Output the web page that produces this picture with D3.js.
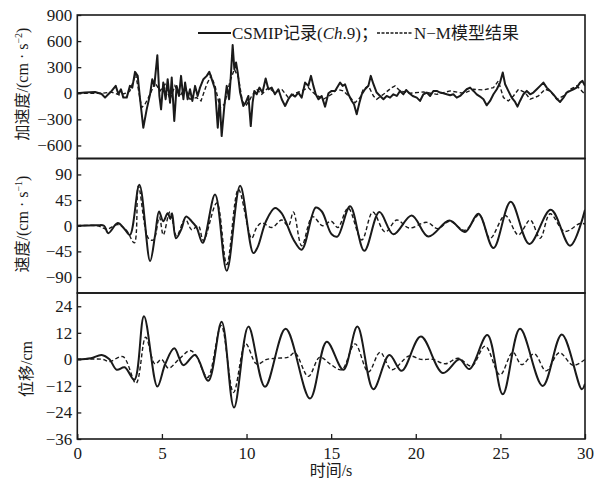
<!DOCTYPE html>
<html>
<head>
<meta charset="utf-8">
<script src="https://cdn.jsdelivr.net/npm/d3@7/dist/d3.min.js"></script>
<style>
  body { margin: 0; background: #fff; }
  text { font-family: "Liberation Serif", "Noto Sans CJK SC", serif; fill: #1a1a1a; }
</style>
</head>
<body>
<div id="chart"></div>
<script>
// time ticks and y ticks
var timeTicks = [0, 5, 10, 15, 20, 25, 30]
var accTicks = [-600, -300, 0, 300, 600, 900]
var velTicks = [-90, -45, 0, 45, 90]
var dispTicks = [-36, -24, -12, 0, 12, 24]

// acceleration, cm/s^2  [time s, value]
var accRecord = [[0, 0], [0.45, 8], [1.05, 15], [1.44, -8], [1.64, -50], [1.83, -12], [2.03, 27], [2.27, 85],
  [2.43, -12], [2.58, 46], [2.72, -50], [2.92, -50], [3.11, 85], [3.25, 65], [3.41, 246], [3.57, 200],
  [3.71, -69], [3.9, -396], [4.1, -185], [4.3, -12], [4.43, 162], [4.55, 85], [4.73, 438], [4.85, -31],
  [4.95, -185], [5.08, 123], [5.22, -69], [5.34, 162], [5.48, -108], [5.58, 181], [5.73, -319], [5.87, 85],
  [6.01, -31], [6.13, 200], [6.27, -69], [6.37, 123], [6.52, -69], [6.66, 46], [6.8, -88], [6.96, 85],
  [7.11, -31], [7.25, 65], [7.45, 162], [7.65, 200], [7.8, 246], [7.98, 142], [8.14, 46], [8.3, -396],
  [8.41, -69], [8.53, -492], [8.69, -146], [8.83, 85], [8.97, -69], [9.06, 162], [9.18, 554], [9.28, 277],
  [9.38, 354], [9.48, 238], [9.62, 8], [9.81, -146], [9.95, -108], [10.11, -31], [10.25, -377], [10.36, -108],
  [10.46, 27], [10.6, -12], [10.76, 65], [10.94, 8], [11.13, 169], [11.29, 46], [11.49, 65], [11.68, -12],
  [11.88, 46], [12.08, -69], [12.28, -146], [12.47, -69], [12.67, -12], [12.87, -38], [13.06, 8], [13.26, -50],
  [13.46, 123], [13.65, 85], [13.81, 200], [13.95, 85], [14.09, -12], [14.25, -69], [14.44, -31], [14.64, -154],
  [14.84, 0], [15.03, 27], [15.23, 27], [15.53, 123], [15.68, 85], [15.82, 104], [16.02, -12], [16.22, -88],
  [16.35, -127], [16.51, -242], [16.67, -108], [16.81, -12], [17.0, 46], [17.2, 85], [17.34, 200], [17.5, 104],
  [17.69, 8], [17.89, -31], [18.09, -69], [18.28, -31], [18.48, -50], [18.68, -12], [18.88, -31], [19.07, 27],
  [19.27, -12], [19.43, 38], [19.62, 0], [19.82, -31], [20.06, -50], [20.25, -88], [20.45, -12], [20.65, 8],
  [20.85, -31], [21.04, 27], [21.24, 27], [21.44, 8], [21.63, 0], [21.83, -12], [22.03, -23], [22.22, -12],
  [22.42, -50], [22.62, -31], [22.82, 8], [23.01, 46], [23.21, 65], [23.41, 27], [23.6, -12], [23.8, -38],
  [24.0, -69], [24.19, -138], [24.39, -88], [24.59, -12], [24.79, 46], [24.98, 123], [25.14, 238], [25.28, 104],
  [25.47, 27], [25.67, -50], [25.87, -100], [26.01, -154], [26.16, -88], [26.36, -12], [26.56, 27], [26.76, -12],
  [26.95, 8], [27.15, 46], [27.35, 85], [27.54, 123], [27.74, 65], [27.94, 27], [28.13, -12], [28.33, -62],
  [28.53, -100], [28.73, -50], [28.92, 8], [29.12, 27], [29.32, 46], [29.51, 65], [29.71, 123], [29.85, 142],
  [30, 85]]
var accModel = [[0, 0], [1.5, 0], [2.0, 15], [2.5, -20], [3.0, 10], [3.11, 27], [3.45, 219], [3.8, -165],
  [4.0, -127], [4.3, -12], [4.59, 123], [4.89, 27], [5.18, 104], [5.48, -69], [5.77, 85], [6.07, -31],
  [6.37, 65], [6.66, -69], [7.05, -50], [7.31, -88], [7.65, 104], [7.9, 200], [8.14, 85], [8.43, -165],
  [8.69, -127], [8.89, 27], [9.03, 142], [9.28, 277], [9.52, 181], [9.75, -88], [9.95, -146], [10.15, -88],
  [10.31, -31], [10.6, 46], [10.9, -12], [11.29, 65], [11.68, 8], [12.08, 46], [12.47, -50], [12.87, 0],
  [13.26, 27], [13.65, 65], [14.05, -12], [14.54, -69], [15.03, -12], [15.33, 46], [15.72, 27], [16.12, -50],
  [16.41, -108], [16.71, -50], [16.9, 46], [17.2, 85], [17.5, -31], [17.69, -69], [18.09, -12], [18.58, 65],
  [18.78, 85], [19.07, 27], [19.66, 0], [20.45, 15], [21.24, -12], [22.03, 27], [22.82, 0], [23.41, 46],
  [24.0, 38], [24.59, 65], [24.88, 142], [25.18, -50], [25.47, -88], [25.77, -31], [26.07, 46], [26.46, 8],
  [26.76, -69], [27.25, -31], [27.64, 46], [27.94, 27], [28.33, -69], [28.73, -31], [29.12, 46], [29.51, 85],
  [29.81, 27], [30, -12]]

// velocity, cm/s
var velRecord = [[0, 0], [1.2, 1], [1.58, 0], [1.83, -13], [2.39, 4.7], [2.8, -6], [3.11, -16], [3.67, 72],
  [4.3, -62], [4.6, -16], [4.83, 25], [5.08, 8], [5.34, 22], [5.5, 12], [5.6, 22], [5.83, -22], [6.15, -6],
  [6.42, 16], [6.75, 8], [7.05, -3], [7.41, -30], [8.14, 55], [8.83, -79], [9.62, 70], [10.4, -48],
  [10.65, -38], [11.15, 8], [11.68, 31], [12.07, 22], [12.77, -24], [13.26, -42], [14.09, 32], [14.45, 25],
  [15.03, -15], [15.37, -19], [16.12, 34], [16.96, -44], [17.85, 24], [18.68, -15], [19.76, 18], [20.74, -19],
  [21.99, 9], [22.91, -11], [23.7, 21], [24.59, -39], [25.61, 42], [26.71, -32], [27.98, 28], [29.12, -35],
  [30, 28]]
var velModel = [[0, 0], [1.2, 0], [1.74, -6], [2.39, 2], [2.9, -8], [3.37, -30], [3.61, 70], [4.2, -22],
  [4.5, -25], [4.85, 15], [5.08, -16], [5.48, 25], [5.87, -18], [6.37, 12], [6.76, -7], [7.15, 0], [7.45, -26],
  [8.24, 40], [8.83, -68], [9.52, 64], [10.3, -22], [10.6, -3], [10.9, 5], [11.5, -3], [12.08, 10],
  [12.47, 0], [12.77, 24], [13.26, -35], [13.9, 16], [14.5, 0], [15.0, 8], [15.4, -3], [16.0, 31],
  [16.81, -25], [17.46, 24], [18.19, -11], [18.88, 10], [19.6, -4], [20.65, 6], [21.3, -5], [22.0, 8],
  [22.9, -8], [23.75, 19], [24.39, -22], [25.28, 18], [26.06, -16], [26.76, 10], [27.35, -22], [27.94, 21],
  [28.8, -10], [29.7, 4], [30, 3]]

// displacement, cm
var dispRecord = [[0, 0], [0.8, 0.5], [1.44, 2], [1.9, 0], [2.33, -4.7], [2.8, -3.6], [3.37, -9.2],
  [3.94, 19.5], [4.73, -12.3], [5.2, -2], [5.73, 5], [6.27, -2.6], [6.96, 2], [7.74, -9.7], [8.53, 17],
  [9.26, -21.8], [10.11, 14.8], [11.09, -12.4], [12.31, 13.8], [13.75, -17.7], [14.74, 8], [15.72, -4.7],
  [16.55, 14.8], [17.49, -13.5], [18.44, 2], [19.17, -5.2], [20.3, 10.3], [21.6, -6.2], [22.58, 0],
  [23.17, -4.4], [24.23, 11], [25.14, -15.8], [26.16, 13.8], [27.5, -12], [28.63, 11.2], [29.81, -13.5],
  [30, -11]]
var dispModel = [[0, 0], [1.5, 0], [1.9, -1], [2.7, 1.2], [3.47, -10.8], [4.04, 10], [4.59, -2.1],
  [4.98, 0], [5.38, -4], [6.0, 0], [6.66, 4], [7.0, 2], [7.7, -8.2], [8.5, 15.3], [9.23, -15], [9.95, 7],
  [10.6, -2.1], [11.2, 0], [11.8, 0.5], [12.47, 1], [12.86, 3], [13.65, -7.7], [14.33, 1], [14.93, -2],
  [15.62, -4.7], [16.41, 7], [17.2, -5.7], [17.89, 3.2], [18.58, -4.7], [19.6, 1.5], [20.3, 0], [21.0, 0],
  [21.75, -2], [22.5, 0.5], [23.3, -3], [24.1, 6], [24.98, -7], [25.73, 3.2], [26.26, -2.4], [27.0, 2.5],
  [27.7, -5.2], [28.48, 3], [29.3, -2.7], [30, 0]]

var width = 599
var height = 481
var left = 77.3
var right = 585
var ink = '#1a1a1a'

var svg = d3.select('#chart')
  .append('svg')
  .attr('width', width)
  .attr('height', height)

var x = d3.scaleLinear().domain([0, 30]).range([left, right])

var panels = [
  { name: 'acc', rec: accRecord, mod: accModel, domain: [-750, 900], range: [158.5, 15], ticks: accTicks, curve: d3.curveLinear },
  { name: 'vel', rec: velRecord, mod: velModel, domain: [-118, 118], range: [293, 158.5], ticks: velTicks, curve: d3.curveCatmullRom },
  { name: 'disp', rec: dispRecord, mod: dispModel, domain: [-36, 30], range: [439, 293], ticks: dispTicks, curve: d3.curveCatmullRom }
]

panels.forEach(function (p) {
  var y = d3.scaleLinear().domain(p.domain).range(p.range)
  var g = svg.append('g').attr('class', p.name)

  g.append('clipPath').attr('id', 'clip-' + p.name)
    .append('rect')
    .attr('x', left).attr('y', p.range[1])
    .attr('width', right - left).attr('height', p.range[0] - p.range[1])

  var line = d3.line()
    .x(d => x(d[0]))
    .y(d => y(d[1]))
    .curve(p.curve)

  // model first, record drawn on top
  g.append('path')
    .datum(p.mod)
    .attr('d', line)
    .attr('clip-path', 'url(#clip-' + p.name + ')')
    .attr('fill', 'none')
    .attr('stroke', ink)
    .attr('stroke-width', 1.4)
    .attr('stroke-dasharray', '4,2.5')

  g.append('path')
    .datum(p.rec)
    .attr('d', line)
    .attr('clip-path', 'url(#clip-' + p.name + ')')
    .attr('fill', 'none')
    .attr('stroke', ink)
    .attr('stroke-width', 2)
    .attr('stroke-linejoin', 'round')

  var yAxis = g.append('g')
    .attr('transform', `translate(${left},0)`)
    .call(d3.axisLeft(y).tickValues(p.ticks).tickSize(-4).tickPadding(5))
  yAxis.select('.domain').remove()
  yAxis.selectAll('line').attr('stroke', ink).attr('stroke-width', 1.3)
  yAxis.selectAll('text').attr('font-size', 17).attr('fill', ink)

  // panel frame
  g.append('rect')
    .attr('x', left).attr('y', p.range[1])
    .attr('width', right - left).attr('height', p.range[0] - p.range[1])
    .attr('fill', 'none')
    .attr('stroke', ink)
    .attr('stroke-width', 1.6)
})

var xAxis = svg.append('g')
  .attr('transform', 'translate(0,439)')
  .call(d3.axisBottom(x).tickValues(timeTicks).tickSize(-5).tickPadding(8))
xAxis.select('.domain').remove()
xAxis.selectAll('line').attr('stroke', ink).attr('stroke-width', 1.3)
xAxis.selectAll('text').attr('font-size', 17).attr('fill', ink)

svg.append('text')
  .attr('x', 331).attr('y', 476)
  .attr('text-anchor', 'middle')
  .attr('font-size', 16)
  .text('时间/s')

// rotated y titles
function yTitle (cx, cy, main, sup) {
  var t = svg.append('text')
    .attr('transform', `translate(${cx},${cy}) rotate(-90)`)
    .attr('text-anchor', 'middle')
    .attr('dy', '0.35em')
    .attr('font-size', 16)
  t.append('tspan').text(main)
  if (sup) {
    t.append('tspan').attr('font-size', 10).attr('dy', -6).text(sup)
    t.append('tspan').attr('dy', 6).text(')')
  }
}
yTitle(22, 84, '加速度/(cm · s', '−2')
yTitle(22, 224, '速度/(cm · s', '−1')
yTitle(26, 369, '位移/cm')

// legend
svg.append('line')
  .attr('x1', 198).attr('x2', 231).attr('y1', 33).attr('y2', 33)
  .attr('stroke', ink).attr('stroke-width', 2)
var leg = svg.append('text').attr('x', 232).attr('y', 39).attr('font-size', 17)
leg.append('tspan').text('CSMIP记录(')
leg.append('tspan').attr('font-style', 'italic').text('Ch')
leg.append('tspan').text('.9)；')

svg.append('line')
  .attr('x1', 377).attr('x2', 413).attr('y1', 33).attr('y2', 33)
  .attr('stroke', ink).attr('stroke-width', 1.3)
  .attr('stroke-dasharray', '3,1.5')
svg.append('text').attr('x', 414).attr('y', 39).attr('font-size', 17)
  .text('N−M模型结果')
</script>
</body>
</html>
